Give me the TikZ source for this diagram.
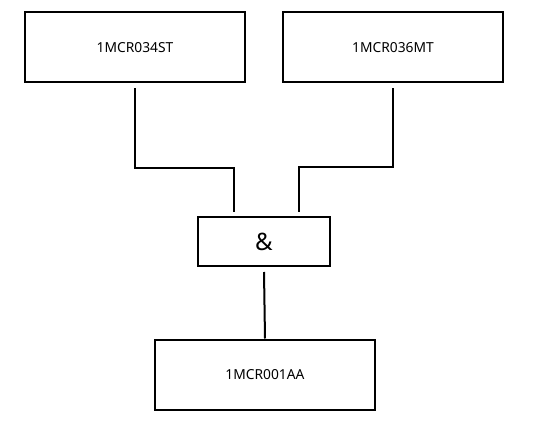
\documentclass[tikz,border=0pt]{standalone}
\usepackage{fontspec}
\setmainfont{Noto Sans}
\begin{document}
\begin{tikzpicture}[x=1pt,y=-1pt,
  box/.style={draw, line width=2pt, minimum width=220pt, minimum height=70pt, font=\fontsize{13.8}{16}\selectfont},
  gate/.style={draw, line width=2pt, minimum width=132pt, minimum height=49pt, font=\fontsize{24}{28}\selectfont},
  wire/.style={line width=2pt}]
\useasboundingbox (0,0) rectangle (540,438);
\node[box] (mcr34) at (135,47.5) {1MCR034ST};
\node[box] (mcr36) at (393,47.5) {1MCR036MT};
\node[gate] (and) at (264,241.5) {\&};
\node[box] (mcr01) at (265,374.5) {1MCR001AA};

\coordinate (j1) at (234,168);
\coordinate (j2) at (299,167);

\path[draw,wire] ([yshift=-5pt]mcr34.south) |- (j1) -- ([yshift=4pt]j1 |- and.north);
\path[draw,wire] ([yshift=-5pt]mcr36.south) |- (j2) -- ([yshift=4pt]j2 |- and.north);
\path[draw,wire] ([yshift=-5pt]and.south) -- (mcr01.north);
\end{tikzpicture}
\end{document}
